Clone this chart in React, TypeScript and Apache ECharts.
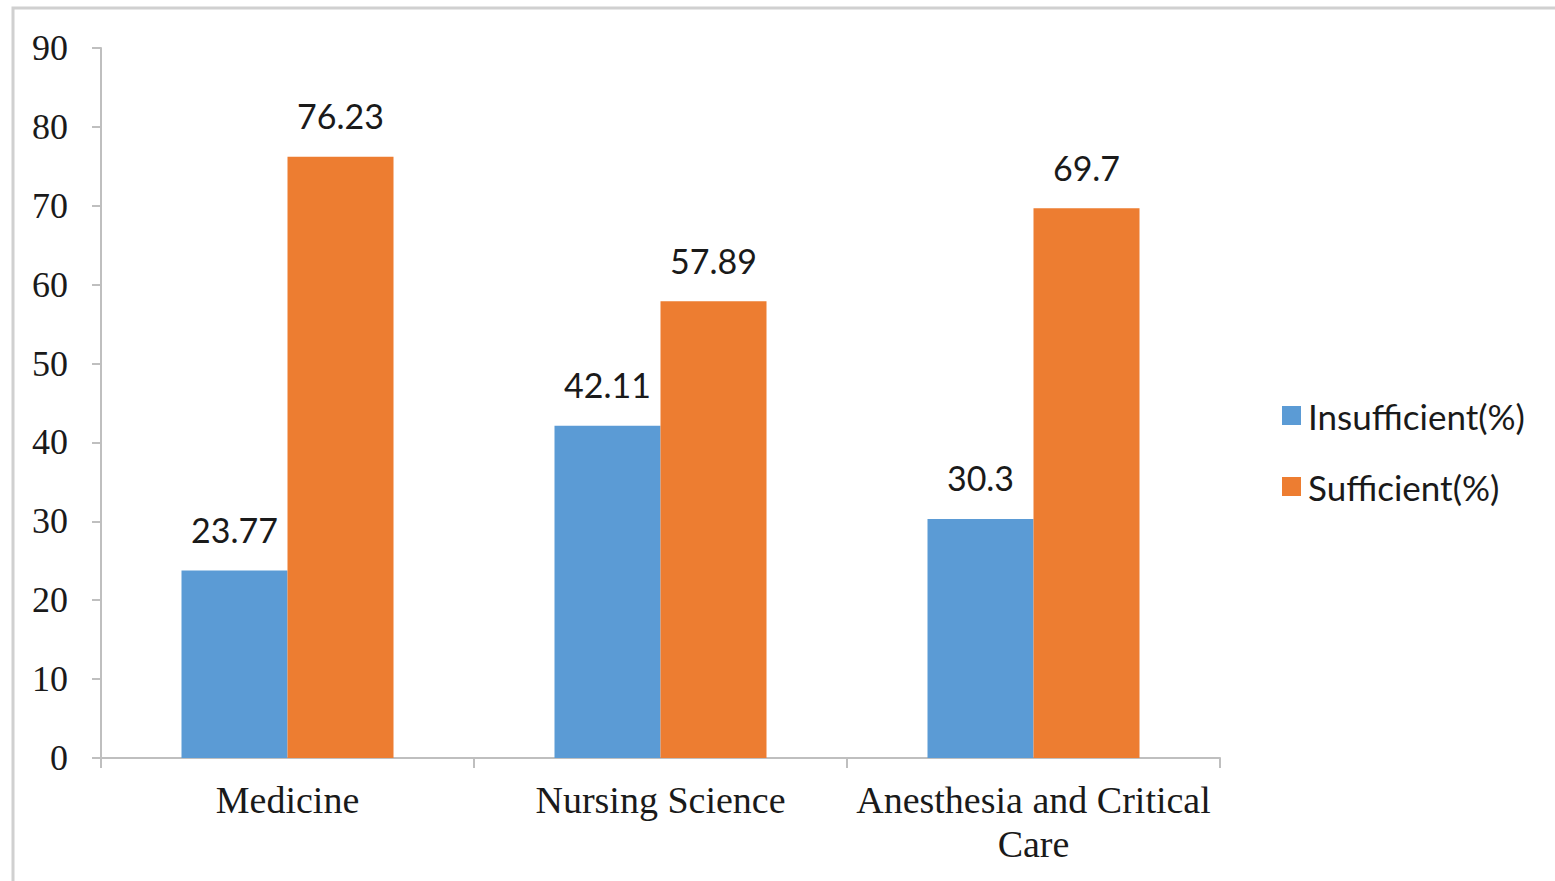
import React, { useEffect, useRef } from "react";
import * as echarts from "echarts";

const categories = ["Medicine", "Nursing Science", "Anesthesia and Critical\nCare"];
const insufficient = [23.77, 42.11, 30.3];
const sufficient = [76.23, 57.89, 69.7];
const seriesNames = ["Insufficient(%)", "Sufficient(%)"];

export default function App() {
  const ref = useRef<HTMLDivElement>(null);
  useEffect(() => {
    document.body.style.margin = "0";
    const chart = echarts.init(ref.current!, null, { renderer: "svg" });
    const labelFont = "Lato, 'Liberation Sans', sans-serif";
    const serif = "'Liberation Serif', 'DejaVu Serif', serif";
    chart.setOption({
      animation: false,
      backgroundColor: "#ffffff",
      graphic: [
        {
          type: "rect",
          shape: { x: 13, y: 8, width: 1600, height: 900 },
          style: { fill: "none", stroke: "#d0d0d0", lineWidth: 3 },
          silent: true,
        },
      ],
      grid: { left: 101, right: 335, top: 48, bottom: 123, containLabel: false },
      legend: {
        orient: "vertical",
        left: 1277,
        top: 393,
        itemWidth: 19,
        itemHeight: 19,
        itemGap: 36,
        icon: "rect",
        textStyle: { fontFamily: labelFont, fontSize: 35, color: "#1a1a1a", padding: [0, 0, 0, 2] },
        data: seriesNames,
      },
      xAxis: {
        type: "category",
        data: categories,
        axisLine: { lineStyle: { color: "#bfbfbf", width: 2 } },
        axisTick: { show: true, length: 10, lineStyle: { color: "#bfbfbf", width: 2 } },
        axisLabel: {
          fontFamily: serif,
          fontSize: 38,
          color: "#1a1a1a",
          margin: 20,
          lineHeight: 44,
          interval: 0,
        },
      },
      yAxis: {
        type: "value",
        min: 0,
        max: 90,
        interval: 10,
        splitLine: { show: false },
        axisLine: { show: true, lineStyle: { color: "#bfbfbf", width: 2 } },
        axisTick: { show: true, length: 9, lineStyle: { color: "#bfbfbf", width: 2 } },
        axisLabel: { fontFamily: serif, fontSize: 36, color: "#1a1a1a", margin: 33 },
      },
      series: [
        {
          name: seriesNames[0],
          type: "bar",
          data: insufficient,
          barWidth: 106,
          barGap: "0%",
          itemStyle: { color: "#5B9BD5" },
          label: {
            show: true,
            position: "top",
            distance: 24,
            fontFamily: labelFont,
            fontSize: 34,
            color: "#1a1a1a",
          },
        },
        {
          name: seriesNames[1],
          type: "bar",
          data: sufficient,
          barWidth: 106,
          barGap: "0%",
          itemStyle: { color: "#ED7D31" },
          label: {
            show: true,
            position: "top",
            distance: 24,
            fontFamily: labelFont,
            fontSize: 34,
            color: "#1a1a1a",
          },
        },
      ],
    });
    return () => chart.dispose();
  }, []);
  return <div ref={ref} style={{ width: 1555, height: 881 }} />;
}
